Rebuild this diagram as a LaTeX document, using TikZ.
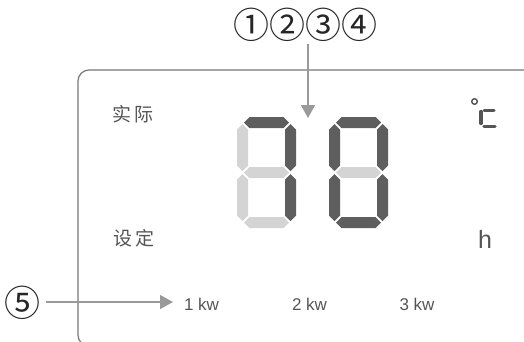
\documentclass[tikz,border=0pt]{standalone}
\usepackage{fontspec}
\setmainfont{Liberation Sans}
\newfontfamily\cjk{Noto Sans CJK SC}
\newfontfamily\cjkw[LetterSpace=15]{Noto Sans CJK SC}
\usetikzlibrary{arrows.meta}
\definecolor{segdark}{HTML}{5E5E5E}
\definecolor{seglight}{HTML}{D4D4D4}
\definecolor{framec}{HTML}{777777}
\definecolor{arrc}{HTML}{9A9A9A}
\definecolor{txt}{HTML}{555555}
\newcommand\hseg[4]{\fill[#4] (#1,#3) -- ({#1+5.5},{#3-5.5}) -- ({#2-5.5},{#3-5.5}) -- (#2,#3) -- ({#2-5.5},{#3+5.5}) -- ({#1+5.5},{#3+5.5}) -- cycle;}
\newcommand\vseg[4]{\fill[#4] (#1,#2) -- ({#1+5.5},{#2+5.5}) -- ({#1+5.5},{#3-5.5}) -- (#1,#3) -- ({#1-5.5},{#3-5.5}) -- ({#1-5.5},{#2+5.5}) -- cycle;}
\newcommand\mydigit[8]{%
 \pgfmathsetmacro\xl{#1+5.5}\pgfmathsetmacro\xr{#1+53.5}%
 \pgfmathsetmacro\hl{#1+7}\pgfmathsetmacro\hr{#1+52}%
 \hseg{\hl}{\hr}{122.5}{#2}%
 \vseg{\xr}{124}{171}{#3}%
 \vseg{\xr}{174}{221}{#4}%
 \hseg{\hl}{\hr}{222.5}{#5}%
 \vseg{\xl}{174}{221}{#6}%
 \vseg{\xl}{124}{171}{#7}%
 \hseg{\hl}{\hr}{172.5}{#8}%
}
\begin{document}
\begin{tikzpicture}[x=1pt,y=-1pt,
  arr/.style={draw=arrc, line width=1.5, -{Triangle[width=14pt,length=13pt,fill=arrc]}},
  circnum/.style={font=\cjk\fontsize{36}{36}\selectfont, text=black!85, inner sep=0pt},
  cjklabel/.style={font=\cjkw\fontsize{19}{19}\selectfont, text=txt, inner sep=0pt},
  kwlabel/.style={font=\fontsize{17}{17}\selectfont, text=txt, inner sep=0pt}]
\useasboundingbox (0,0) rectangle (524,341);
\clip (0,0) rectangle (524,341);
% frame
\draw[framec, line width=1.2, rounded corners=11] (120,346) -- (78,346) -- (78,70) -- (560,70);
% digits
\mydigit{237}{segdark}{segdark}{segdark}{seglight}{seglight}{seglight}{seglight}
\mydigit{329}{segdark}{segdark}{segdark}{segdark}{segdark}{segdark}{seglight}
% degree C
\draw[txt, line width=1.4] (474.5,101.5) circle (2.8);
\draw[txt, line width=3.3, line cap=round] (481,111.5) -- (481,123.5);
\draw[txt, line width=3, line cap=round] (484,110.8) -- (494,110.8);
\draw[txt, line width=3.3, line cap=round] (484,126.6) -- (495,126.6);
% labels
\node[cjklabel] (shiji) at (133,114) {实际};
\node[cjklabel] (sheding) at (134,238) {设定};
\node[font=\fontsize{25}{25}\selectfont, text=txt, inner sep=0pt] (h) at (485,239) {h};
\node[kwlabel] (k1) at (201.5,304.5) {1 kw};
\node[kwlabel] (k2) at (309.5,304.5) {2 kw};
\node[kwlabel] (k3) at (417,304.5) {3 kw};
% callouts
\node[circnum] (nums) at (305,25) {①②③④};
\coordinate (t1) at (308,118);
\draw[arr] (nums.south -| t1) ++(0,2) -- (t1);
\node[circnum] (n5) at (23,303) {⑤};
\coordinate (t5) at (173,302);
\draw[arr] (n5.east |- t5) ++(5,0) -- (t5);
\end{tikzpicture}
\end{document}
